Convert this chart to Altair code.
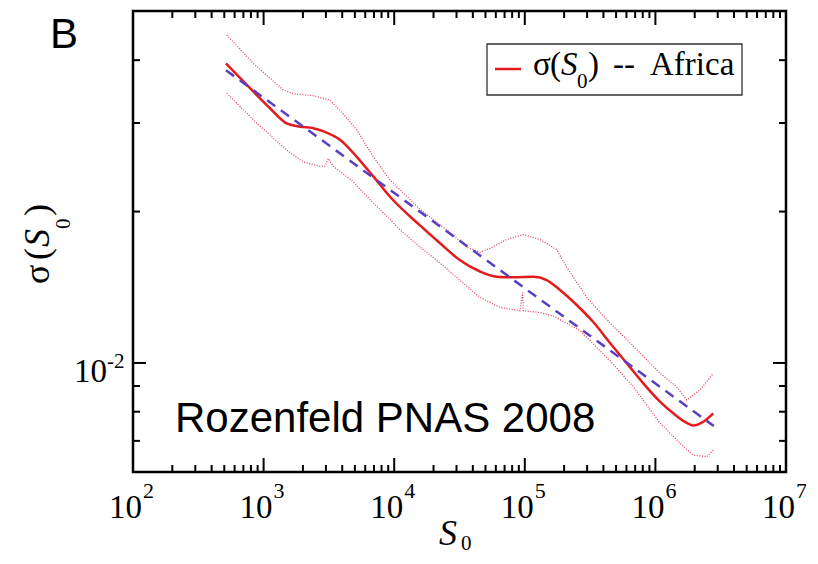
import altair as alt
import pandas as pd

# ---- data ----
main_s0 = [515, 811, 1119, 1517, 1900, 2404, 2953, 3846, 5164, 6918, 9290, 15760, 22450,
           31930, 45420, 60950, 81650, 116200, 147100, 186000, 249700, 334600, 449200,
           602500, 807500, 1084000, 1371000, 1737000, 1951000, 2326000, 2773000]
main_sigma = [0.0394, 0.0349, 0.0321, 0.0299, 0.0295, 0.0293, 0.0288, 0.0278, 0.0257, 0.0235,
              0.0214, 0.01877, 0.0173, 0.0160, 0.0152, 0.01484, 0.0148, 0.01484, 0.01462,
              0.01397, 0.01304, 0.01206, 0.01096, 0.00999, 0.00911, 0.00838, 0.00794, 0.0076,
              0.00751, 0.00764, 0.00794]

upper_s0 = [522, 834, 1415, 1688, 2402, 3225, 3846, 5164, 6918, 9287, 11080, 15760, 25240,
            35910, 45390, 54130, 72690, 97390, 130700, 175500, 209400, 297900, 423600,
            677300, 1084000, 1456000, 1737000, 2195000, 2776000]
upper_sigma = [0.0449, 0.0394, 0.0349, 0.0343, 0.0340, 0.0333, 0.0318, 0.0291, 0.0257, 0.0231,
               0.0221, 0.0202, 0.0184, 0.0170, 0.0166, 0.0169, 0.0176, 0.0180, 0.0176, 0.0168,
               0.0155, 0.0135, 0.0122, 0.0108, 0.00954, 0.00897, 0.00844, 0.00884, 0.00954]

lower_s0 = [522, 886, 1503, 2014, 2704, 2953, 3129, 3418, 4700, 6918, 7785, 11080, 15760,
            22430, 31900, 45390, 64580, 91880, 96360, 97390, 130700, 165300, 209400, 264700,
            449200, 677300, 1084000, 1636000, 1951000, 2471000, 2776000]
lower_sigma = [0.0344, 0.0300, 0.0265, 0.0251, 0.0246, 0.0246, 0.0255, 0.0246, 0.0231, 0.0208,
               0.0202, 0.0184, 0.0170, 0.0158, 0.0146, 0.0135, 0.0129, 0.0127, 0.0138, 0.0127,
               0.0126, 0.0124, 0.0120, 0.0116, 0.0101, 0.00897, 0.0076, 0.00682, 0.00656,
               0.00651, 0.00671]

fit_s0 = [515, 2800000]
fit_sigma = [0.0382, 0.00749]

x_major = [1e2, 1e3, 1e4, 1e5, 1e6, 1e7]
x_exponents = ["2", "3", "4", "5", "6", "7"]
x_minor = [m * 10 ** k for k in range(2, 7) for m in range(2, 10)]
y_major = [0.01]
y_exponents = ["-2"]
y_minor = [0.007, 0.008, 0.009, 0.02, 0.03, 0.04]

# ---- layout ----
W, H = 653, 461
SERIF = "Liberation Serif"
SANS = "Liberation Sans"
xs = alt.Scale(type="log", domain=[100, 1e7], nice=False)
ys = alt.Scale(type="log", domain=[0.00607, 0.0501], nice=False)
X = lambda f: alt.X(f, scale=xs, axis=None)
Y = lambda f: alt.Y(f, scale=ys, axis=None)


def series(xv, yv):
    return pd.DataFrame({"S0": xv, "sigma": yv})


def line_layer(df, **mark):
    return alt.Chart(df).mark_line(**mark).encode(x=X("S0:Q"), y=Y("sigma:Q"))


one = pd.DataFrame({"a": [0]})


def label(s, x, y, size, font=SERIF, style="normal", angle=0, align="left"):
    kw = dict(text=s, align=align, baseline="alphabetic", font=font, fontSize=size,
              fontStyle=style, color="black")
    if angle:
        kw["angle"] = angle
    return alt.Chart(one).mark_text(**kw).encode(x=alt.value(x), y=alt.value(y))


layers = []

# bands
for xv, yv in ((upper_s0, upper_sigma), (lower_s0, lower_sigma)):
    layers.append(line_layer(series(xv, yv), color="#e3203f", strokeWidth=1.3,
                             strokeDash=[1, 1.6], opacity=0.85))
# main curve
layers.append(line_layer(series(main_s0, main_sigma), color="#e41a1c", strokeWidth=2.5,
                         interpolate="monotone"))
# power-law fit
layers.append(line_layer(series(fit_s0, fit_sigma), color="#5b3fc2", strokeWidth=2.5,
                         strokeDash=[10, 7]))

# ticks
xmaj = pd.DataFrame({"v": x_major, "e": x_exponents})
xmin = pd.DataFrame({"v": x_minor})
ymaj = pd.DataFrame({"v": y_major, "e": y_exponents})
ymin = pd.DataFrame({"v": y_minor})

for df, ln in ((xmaj, 14), (xmin, 7)):
    layers.append(alt.Chart(df).mark_rule(color="black", strokeWidth=2).encode(
        x=X("v:Q"), y=alt.value(H), y2=alt.value(H - ln)))
    layers.append(alt.Chart(df).mark_rule(color="black", strokeWidth=2).encode(
        x=X("v:Q"), y=alt.value(0), y2=alt.value(ln)))
for df, ln in ((ymaj, 13), (ymin, 7)):
    layers.append(alt.Chart(df).mark_rule(color="black", strokeWidth=2).encode(
        y=Y("v:Q"), x=alt.value(0), x2=alt.value(ln)))
    layers.append(alt.Chart(df).mark_rule(color="black", strokeWidth=2).encode(
        y=Y("v:Q"), x=alt.value(W), x2=alt.value(W - ln)))

# tick labels
layers.append(alt.Chart(xmaj).mark_text(text="10", align="right", baseline="alphabetic", dx=9,
                                        font=SERIF, fontSize=33, color="black").encode(
    x=X("v:Q"), y=alt.value(507)))
layers.append(alt.Chart(xmaj).mark_text(align="left", baseline="alphabetic", dx=10,
                                        font=SERIF, fontSize=22, color="black").encode(
    x=X("v:Q"), y=alt.value(487), text="e:N"))
layers.append(alt.Chart(ymaj).mark_text(text="10", align="right", baseline="alphabetic", dy=19,
                                        font=SERIF, fontSize=33, color="black").encode(
    y=Y("v:Q"), x=alt.value(-26)))
layers.append(alt.Chart(ymaj).mark_text(align="left", baseline="alphabetic", dy=5,
                                        font=SERIF, fontSize=21, color="black").encode(
    y=Y("v:Q"), x=alt.value(-26), text="e:N"))

# axis titles
layers.append(label("S", 306, 534, 36, style="italic"))
layers.append(label("0", 328, 539, 21))
layers.append(label("σ", -84.5, 273, 36, angle=270))
layers.append(label("(", -84.5, 249, 36, angle=270))
layers.append(label("S", -84.5, 236, 36, style="italic", angle=270))
layers.append(label("0", -63, 218, 21, angle=270))
layers.append(label(")", -84.5, 205, 36, angle=270))

# legend
layers.append(alt.Chart(one).mark_rect(fill="white", stroke="#333333", strokeWidth=1.3).encode(
    x=alt.value(354), x2=alt.value(609), y=alt.value(33), y2=alt.value(84)))
layers.append(alt.Chart(one).mark_rule(color="#e41a1c", strokeWidth=2.5).encode(
    x=alt.value(362), x2=alt.value(388), y=alt.value(58)))
layers.append(label("σ", 400, 64, 33))
layers.append(label("(", 417, 64, 33))
layers.append(label("S", 428, 64, 33, style="italic"))
layers.append(label("0", 444, 77, 21))
layers.append(label(")", 455, 64, 33))
layers.append(label("--", 480, 64, 33))
layers.append(label("Africa", 517, 64, 33))

# panel letter and annotation
layers.append(label("B", -83, 37, 42, font=SANS))
layers.append(label("Rozenfeld PNAS 2008", 42, 421, 42, font=SANS))

chart = alt.layer(*layers).properties(
    width=W, height=H,
    padding={"left": 125, "top": 3, "right": 20, "bottom": 84},
    autosize=alt.AutoSizeParams(type="none"),
    background="white",
).configure_view(stroke="black", strokeWidth=2.5)

chart.save("out.html", embed_options={"renderer": "svg", "actions": False})
